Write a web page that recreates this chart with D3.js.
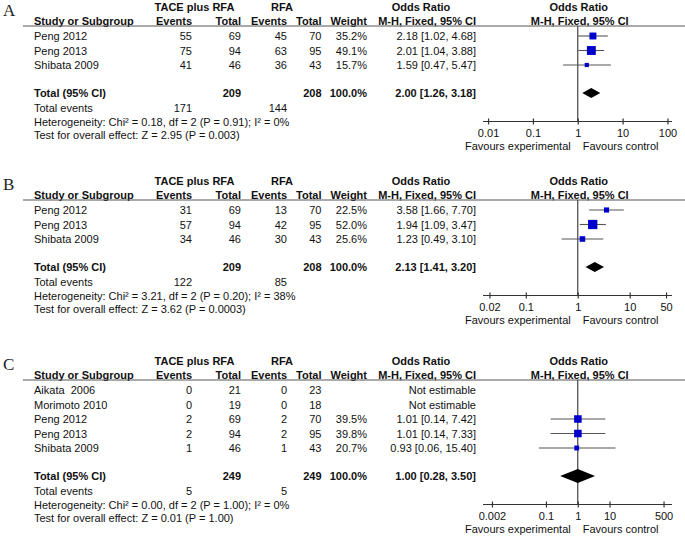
<!DOCTYPE html>
<html>
<head>
<meta charset="utf-8">
<script src="https://cdn.jsdelivr.net/npm/d3@7"></script>
<style>
  body { margin: 0; background: #fff; }
  svg { display: block; font-family: "Liberation Sans", Arial, sans-serif; }
  text { white-space: pre; }
</style>
</head>
<body>
<svg id="chart" width="685" height="536"></svg>
<script>
// ---------- DATA ----------
const panelLetters = ["A", "B", "C"];

const studiesA = ["Peng 2012", "Peng 2013", "Shibata 2009"];
const expEventsA = [55, 75, 41];
const expTotalA = [69, 94, 46];
const ctrlEventsA = [45, 63, 36];
const ctrlTotalA = [70, 95, 43];
const weightA = [35.2, 49.1, 15.7];
const orA = [2.18, 2.01, 1.59];
const loA = [1.02, 1.04, 0.47];
const hiA = [4.68, 3.88, 5.47];
const pooledA = [2.00, 1.26, 3.18];
const sumTotalsA = [209, 208];
const sumEventsA = [171, 144];
const hetA = "Heterogeneity: Chi² = 0.18, df = 2 (P = 0.91); I² = 0%";
const testA = "Test for overall effect: Z = 2.95 (P = 0.003)";
const ticksA = [0.01, 0.1, 1, 10, 100];
const tickLabelsA = ["0.01", "0.1", "1", "10", "100"];

const studiesB = ["Peng 2012", "Peng 2013", "Shibata 2009"];
const expEventsB = [31, 57, 34];
const expTotalB = [69, 94, 46];
const ctrlEventsB = [13, 42, 30];
const ctrlTotalB = [70, 95, 43];
const weightB = [22.5, 52.0, 25.6];
const orB = [3.58, 1.94, 1.23];
const loB = [1.66, 1.09, 0.49];
const hiB = [7.70, 3.47, 3.10];
const pooledB = [2.13, 1.41, 3.20];
const sumTotalsB = [209, 208];
const sumEventsB = [122, 85];
const hetB = "Heterogeneity: Chi² = 3.21, df = 2 (P = 0.20); I² = 38%";
const testB = "Test for overall effect: Z = 3.62 (P = 0.0003)";
const ticksB = [0.02, 0.1, 1, 10, 50];
const tickLabelsB = ["0.02", "0.1", "1", "10", "50"];

const studiesC = ["Aikata  2006", "Morimoto 2010", "Peng 2012", "Peng 2013", "Shibata 2009"];
const expEventsC = [0, 0, 2, 2, 1];
const expTotalC = [21, 19, 69, 94, 46];
const ctrlEventsC = [0, 0, 2, 2, 1];
const ctrlTotalC = [23, 18, 70, 95, 43];
const weightC = [null, null, 39.5, 39.8, 20.7];
const orC = [null, null, 1.01, 1.01, 0.93];
const loC = [null, null, 0.14, 0.14, 0.06];
const hiC = [null, null, 7.42, 7.33, 15.40];
const pooledC = [1.00, 0.28, 3.50];
const sumTotalsC = [249, 249];
const sumEventsC = [5, 5];
const hetC = "Heterogeneity: Chi² = 0.00, df = 2 (P = 1.00); I² = 0%";
const testC = "Test for overall effect: Z = 0.01 (P = 1.00)";
const ticksC = [0.002, 0.1, 1, 10, 500];
const tickLabelsC = ["0.002", "0.1", "1", "10", "500"];

// ---------- BUILD PANELS ----------
function build(letter, studies, ee, et, ce, ct, w, or, lo, hi, pooled, sums, evs, het, test, ticks, tlabels) {
  return {
    letter, het, test, ticks, tlabels, pooled, sums, evs,
    rows: studies.map((s, i) => ({ study: s, ee: ee[i], et: et[i], ce: ce[i], ct: ct[i], w: w[i], or: or[i], lo: lo[i], hi: hi[i] }))
  };
}
const panels = [
  build("A", studiesA, expEventsA, expTotalA, ctrlEventsA, ctrlTotalA, weightA, orA, loA, hiA, pooledA, sumTotalsA, sumEventsA, hetA, testA, ticksA, tickLabelsA),
  build("B", studiesB, expEventsB, expTotalB, ctrlEventsB, ctrlTotalB, weightB, orB, loB, hiB, pooledB, sumTotalsB, sumEventsB, hetB, testB, ticksB, tickLabelsB),
  build("C", studiesC, expEventsC, expTotalC, ctrlEventsC, ctrlTotalC, weightC, orC, loC, hiC, pooledC, sumTotalsC, sumEventsC, hetC, testC, ticksC, tickLabelsC)
];

// ---------- LAYOUT (style) ----------
const panelOffsets = [0, 174, 354];
const plotHalfWidth = [89.7, 88.3, 85.8];
const diamondHalfH = [5, 5, 7];
const plotCenter = 577.75;
const axisX0 = 483, axisX1 = 672;
const rowStep = 14.5;
const col = { study: 34, ee: 192, et: 241, ce: 287, ct: 321.5, w: 367, ci: 476 };
const FS = 11;
const sizeScale = d3.scaleLinear().domain([0, 100]).range([2, 16]);

const svg = d3.select("#chart");
const fmt2 = d3.format(".2f");
const ciText = (o, l, h) => `${fmt2(o)} [${fmt2(l)}, ${fmt2(h)}]`;

panels.forEach((p, pi) => {
  const g = svg.append("g").attr("transform", `translate(0,${panelOffsets[pi]})`);
  const x = d3.scaleLog()
    .domain([p.ticks[0], p.ticks[p.ticks.length - 1]])
    .range([plotCenter - plotHalfWidth[pi], plotCenter + plotHalfWidth[pi]]);

  const txt = (xx, yy, s, anchor = "start", bold = false) =>
    g.append("text").attr("x", xx).attr("y", yy).attr("text-anchor", anchor)
      .attr("font-size", FS).attr("font-weight", bold ? "bold" : "normal")
      .attr("fill", "#111").text(s);

  // letter
  g.append("text").attr("x", 3).attr("y", 16).attr("font-family", "'Liberation Serif', 'Times New Roman', serif")
    .attr("font-size", 17).attr("fill", "#222").text(p.letter);

  // headers
  const h1 = 10.5, h2 = 24.5;
  txt(194.5, h1, "TACE plus RFA", "middle", true);
  txt(282, h1, "RFA", "middle", true);
  txt(421, h1, "Odds Ratio", "middle", true);
  txt(plotCenter + 1, h1, "Odds Ratio", "middle", true);
  txt(col.study, h2, "Study or Subgroup", "start", true);
  txt(col.ee, h2, "Events", "end", true);
  txt(col.et, h2, "Total", "end", true);
  txt(col.ce, h2, "Events", "end", true);
  txt(col.ct, h2, "Total", "end", true);
  txt(col.w, h2, "Weight", "end", true);
  txt(col.ci, h2, "M-H, Fixed, 95% CI", "end", true);
  txt(plotCenter + 2, h2, "M-H, Fixed, 95% CI", "middle", true);
  const lineY = 26;
  g.append("line").attr("x1", 23).attr("x2", 685).attr("y1", lineY).attr("y2", lineY)
    .attr("stroke", "#555").attr("stroke-width", 1.2);

  // rows
  const base = i => 40 + rowStep * i;
  p.rows.forEach((r, i) => {
    const y = base(i);
    txt(col.study, y, r.study);
    txt(col.ee, y, r.ee, "end");
    txt(col.et, y, r.et, "end");
    txt(col.ce, y, r.ce, "end");
    txt(col.ct, y, r.ct, "end");
    if (r.w != null) {
      txt(col.w, y, d3.format(".1f")(r.w) + "%", "end");
      txt(col.ci, y, ciText(r.or, r.lo, r.hi), "end");
    } else {
      txt(col.ci, y, "Not estimable", "end");
    }
  });

  const n = p.rows.length;
  const lastBase = base(n - 1);
  const totBase = lastBase + 28;
  const totCenter = totBase - 4;
  const axisY = totCenter + 28.5;

  txt(col.study, totBase, "Total (95% CI)", "start", true);
  txt(col.et, totBase, p.sums[0], "end", true);
  txt(col.ct, totBase, p.sums[1], "end", true);
  txt(col.w, totBase, "100.0%", "end", true);
  txt(col.ci, totBase, ciText(p.pooled[0], p.pooled[1], p.pooled[2]), "end", true);
  txt(col.study, totBase + 15, "Total events");
  txt(col.ee, totBase + 15, p.evs[0], "end");
  txt(col.ce, totBase + 15, p.evs[1], "end");
  txt(col.study, totBase + 29, p.het);
  txt(col.study, totBase + 42, p.test);

  // plot: vertical line at 1
  g.append("line").attr("x1", x(1)).attr("x2", x(1)).attr("y1", lineY).attr("y2", axisY)
    .attr("stroke", "#444").attr("stroke-width", 1.2);

  // whiskers and squares
  p.rows.forEach((r, i) => {
    if (r.w == null) return;
    const cy = base(i) - 4;
    g.append("line").attr("x1", x(r.lo)).attr("x2", x(r.hi)).attr("y1", cy).attr("y2", cy)
      .attr("stroke", "#555").attr("stroke-width", 1.1);
    const s = sizeScale(r.w);
    g.append("rect").attr("x", x(r.or) - s / 2).attr("y", cy - s / 2).attr("width", s).attr("height", s)
      .attr("fill", "#0000cc");
  });

  // diamond
  const dh = diamondHalfH[pi];
  const pts = [[x(p.pooled[1]), totCenter], [x(p.pooled[0]), totCenter - dh], [x(p.pooled[2]), totCenter], [x(p.pooled[0]), totCenter + dh]];
  g.append("path").attr("d", d3.line()(pts) + "Z").attr("fill", "#000");

  // axis
  g.append("line").attr("x1", axisX0).attr("x2", axisX1).attr("y1", axisY).attr("y2", axisY)
    .attr("stroke", "#333").attr("stroke-width", 1.2);
  const ax = g.append("g").attr("transform", `translate(0,${axisY})`)
    .call(d3.axisBottom(x).tickValues(p.ticks).tickFormat((d, i) => p.tlabels[i]).tickSize(3));
  ax.select(".domain").remove();
  ax.selectAll(".tick line").attr("y1", -3).attr("y2", 3).attr("stroke", "#333").attr("stroke-width", 1.2);
  ax.selectAll(".tick text").attr("y", 15).attr("dy", null)
    .attr("font-size", FS).attr("font-family", "'Liberation Sans', Arial, sans-serif").attr("fill", "#111");

  txt(plotCenter - 7, axisY + 28.5, "Favours experimental", "end");
  txt(plotCenter + 5, axisY + 28.5, "Favours control", "start");
});
</script>
</body>
</html>
